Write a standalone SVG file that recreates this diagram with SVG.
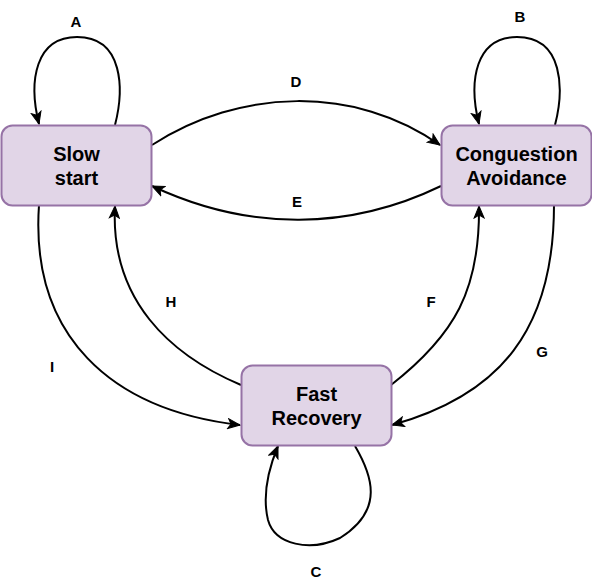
<svg xmlns="http://www.w3.org/2000/svg" width="592" height="586" viewBox="0 0 592 586">
<defs>
<style>
.node rect{fill:#e1d5e7;stroke:#9673a6;stroke-width:2}
.node text{font-family:"Liberation Sans",Arial,sans-serif;font-weight:bold;font-size:20px;fill:#000;text-anchor:middle}
.edge path{fill:none;stroke:#000;stroke-width:2}
.lbl{font-family:"Liberation Sans",Arial,sans-serif;font-weight:bold;font-size:15px;fill:#000;text-anchor:middle}
</style>
<marker id="arr" markerUnits="userSpaceOnUse" markerWidth="14" markerHeight="12" viewBox="0 0 14 12" refX="13" refY="6" orient="auto">
<path d="M1,1 L13,6 L1,11 L4,6 z" fill="#000" stroke="#000" stroke-width="1"/>
</marker>
</defs>
<rect width="592" height="586" fill="#fff"/>
<g id="connectors" class="edge">
<path id="A" d="M115,125 C124,90 124,37 77,37 C36,37 28,80 39,124" marker-end="url(#arr)"/>
<path id="B" d="M555,125 C564,90 564,37 517,37 C476,37 468,80 479,124" marker-end="url(#arr)"/>
<path id="C" d="M355,446 C372,475 385,510 340,538 C310,552 275,545 268,520 C262,495 268,470 278,446" marker-end="url(#arr)"/>
<path id="D" d="M152,145 C240,88 355,85 440,145" marker-end="url(#arr)"/>
<path id="E" d="M441,186 C350,230 250,232 152,186" marker-end="url(#arr)"/>
<path id="F" d="M391,385 C455,335 480,290 479,206" marker-end="url(#arr)"/>
<path id="G" d="M554,205 C554,330 500,395 392,425" marker-end="url(#arr)"/>
<path id="H" d="M241,385 C170,355 110,300 115,206" marker-end="url(#arr)"/>
<path id="I" d="M39,205 C30,335 110,410 240,425" marker-end="url(#arr)"/>
</g>
<g id="labels">
<text class="lbl" x="76" y="26.5">A</text>
<text class="lbl" x="520" y="21.5">B</text>
<text class="lbl" x="316" y="576.5">C</text>
<text class="lbl" x="296" y="86.5">D</text>
<text class="lbl" x="297" y="206.5">E</text>
<text class="lbl" x="431" y="306.5">F</text>
<text class="lbl" x="542" y="356.5">G</text>
<text class="lbl" x="171" y="306.5">H</text>
<text class="lbl" x="52" y="371.5">I</text>
</g>
<g id="slow-start" class="node">
<rect x="1.5" y="125.5" width="150" height="80" rx="11"/>
<text x="76.5" y="161">Slow</text>
<text x="76.5" y="185">start</text>
</g>
<g id="congestion-avoidance" class="node">
<rect x="441.5" y="125.5" width="150" height="80" rx="11"/>
<text x="516.5" y="161">Conguestion</text>
<text x="516.5" y="185">Avoidance</text>
</g>
<g id="fast-recovery" class="node">
<rect x="241.5" y="365.5" width="150" height="80" rx="11"/>
<text x="316.5" y="401">Fast</text>
<text x="316.5" y="425">Recovery</text>
</g>
</svg>
